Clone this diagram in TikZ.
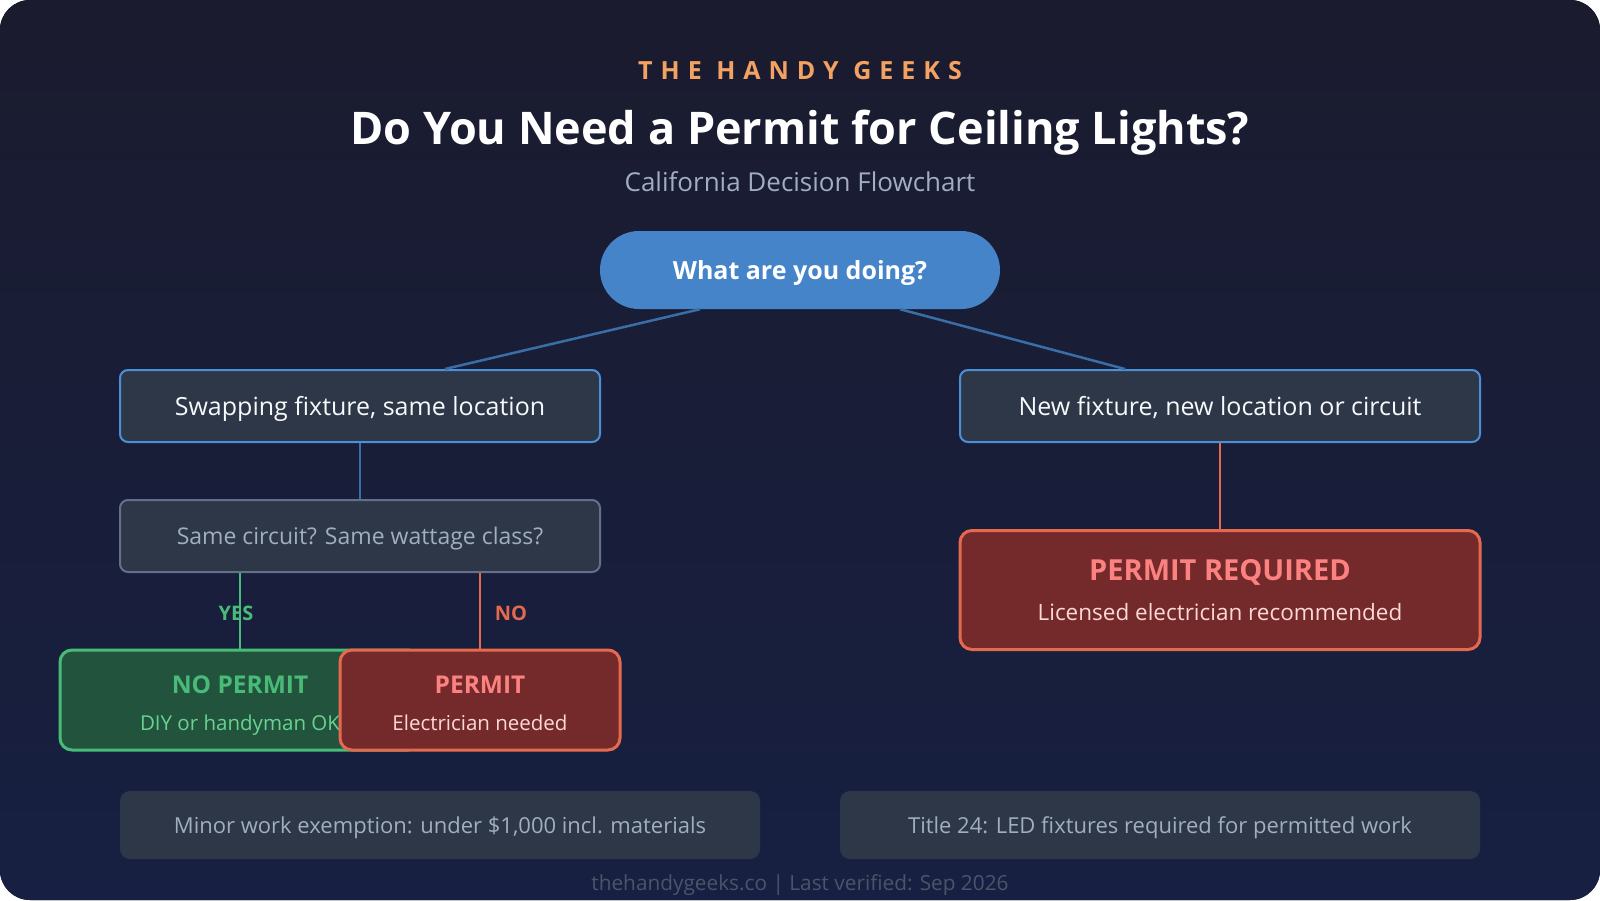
\documentclass[tikz,border=0pt]{standalone}
\usepackage{fontspec}
\setmainfont{Open Sans}
\usetikzlibrary{positioning}

\definecolor{bgtop}{HTML}{1A1B2E}
\definecolor{bgbot}{HTML}{172042}
\definecolor{brand}{HTML}{F4A261}
\definecolor{subgrey}{HTML}{A0AEC0}
\definecolor{pillblue}{HTML}{4584C8}
\definecolor{boxfill}{HTML}{2D3748}
\definecolor{boxblue}{HTML}{4A90D9}
\definecolor{linkblue}{HTML}{3A6EA8}
\definecolor{askgrey}{HTML}{64708A}
\definecolor{okgreen}{HTML}{48BB78}
\definecolor{okfill}{HTML}{22543D}
\definecolor{oklight}{HTML}{68D391}
\definecolor{badred}{HTML}{E5694F}
\definecolor{badfill}{HTML}{742A2A}
\definecolor{badtext}{HTML}{FC8181}
\definecolor{badlight}{HTML}{FED7D7}
\definecolor{footgrey}{HTML}{4A5568}

\newcommand{\fs}[1]{\fontsize{#1}{#1}\selectfont}

\tikzset{
  pill/.style={fill=pillblue, rounded corners=39pt, minimum width=400pt, minimum height=78pt, inner sep=0pt, text depth=0pt, text=white, font=\fs{25}\bfseries},
  choice/.style={fill=boxfill, draw=boxblue, line width=2pt, rounded corners=8pt, minimum height=72pt, inner sep=0pt, text depth=0pt, text=white!92!subgrey, font=\fs{25}},
  ask/.style={fill=boxfill, draw=askgrey, line width=2pt, rounded corners=8pt, minimum height=72pt, inner sep=0pt, text depth=0pt, text=subgrey, font=\fs{23}},
  okbox/.style={fill=okfill, draw=okgreen, line width=3pt, rounded corners=12pt, minimum height=100pt, inner sep=0pt},
  badbox/.style={fill=badfill, draw=badred, line width=3pt, rounded corners=12pt, inner sep=0pt},
  verdict/.style={anchor=base, font=\fs{24.5}\bfseries},
  reason/.style={anchor=base, font=\fs{20.5}},
  note/.style={fill=boxfill, rounded corners=10pt, minimum width=640pt, minimum height=68pt, inner sep=0pt, text depth=0pt, text=subgrey, font=\fs{22}},
  link/.style={draw=linkblue, line width=2.5pt},
  yesline/.style={draw=okgreen, line width=2.5pt},
  noline/.style={draw=badred, line width=2.5pt}
}

\begin{document}
\begin{tikzpicture}[x=1pt, y=-1pt]

  % page and background
  \fill[white] (0,0) rectangle (1600,900);
  \useasboundingbox (0,0) rectangle (1600,900);
  \fill[top color=bgtop, bottom color=bgbot, rounded corners=30pt] (0,0) rectangle (1600,900);

  % header
  \node[text=brand, font=\fs{25}\bfseries\addfontfeature{LetterSpace=32}] (brandname) at (800,71) {THE HANDY GEEKS};
  \node[text=white, font=\fs{45}\bfseries] (title) at (800,133) {Do You Need a Permit for Ceiling Lights?};
  \node[text=subgrey, font=\fs{26}] (subtitle) at (800,182) {California Decision Flowchart};

  % flow
  \node[pill] (start) at (800,270) {What are you doing?};
  \node[choice, minimum width=480pt] (swap) at (360,406) {Swapping fixture, same location};
  \node[choice, minimum width=520pt] (newfix) at (1220,406) {New fixture, new location or circuit};
  \node[ask, minimum width=480pt] (same) at (360,536) {Same circuit? Same wattage class?};

  \node[text=okgreen, font=\fs{20}\bfseries] (yes) at (236,613) {YES};
  \node[text=badred, font=\fs{20}\bfseries] (no) at (511,613) {NO};

  \draw[link] ([xshift=-100pt]start.south) -- ([xshift=85pt]swap.north);
  \draw[link] ([xshift=100pt]start.south) -- ([xshift=-95pt]newfix.north);
  \draw[link] (swap) -- (same);
  \draw[noline] (newfix) -- (1220,530);

  \node[okbox, minimum width=360pt] (nopermit) at (240,700) {};
  \node[verdict, text=okgreen] (nopermithead) at (240,693) {NO PERMIT};
  \node[reason, text=oklight] (nopermitnote) at (240,730) {DIY or handyman OK};

  \node[badbox, minimum width=280pt, minimum height=100pt] (permit) at (480,700) {};
  \node[verdict, text=badtext] (permithead) at (480,693) {PERMIT};
  \node[reason, text=badlight] (permitnote) at (480,730) {Electrician needed};

  \node[badbox, minimum width=520pt, minimum height=119pt] (required) at (1220,590) {};
  \node[verdict, text=badtext, font=\fs{29}\bfseries] (requiredhead) at (1220,580) {PERMIT REQUIRED};
  \node[reason, text=badlight, font=\fs{22.5}] (requirednote) at (1220,620) {Licensed electrician recommended};

  \draw[yesline] (same.south -| nopermit.north) -- (nopermit.north);
  \draw[noline] (same.south -| permit.north) -- (permit.north);

  % notes and footer
  \node[note] (exempt) at (440,825) {Minor work exemption: under \$1,000 incl. materials};
  \node[note] (titlenote) at (1160,825) {Title 24: LED fixtures required for permitted work};
  \node[text=footgrey, font=\fs{20.8}] (footer) at (800,885) {thehandygeeks.co | Last verified: Sep 2026};

\end{tikzpicture}
\end{document}
